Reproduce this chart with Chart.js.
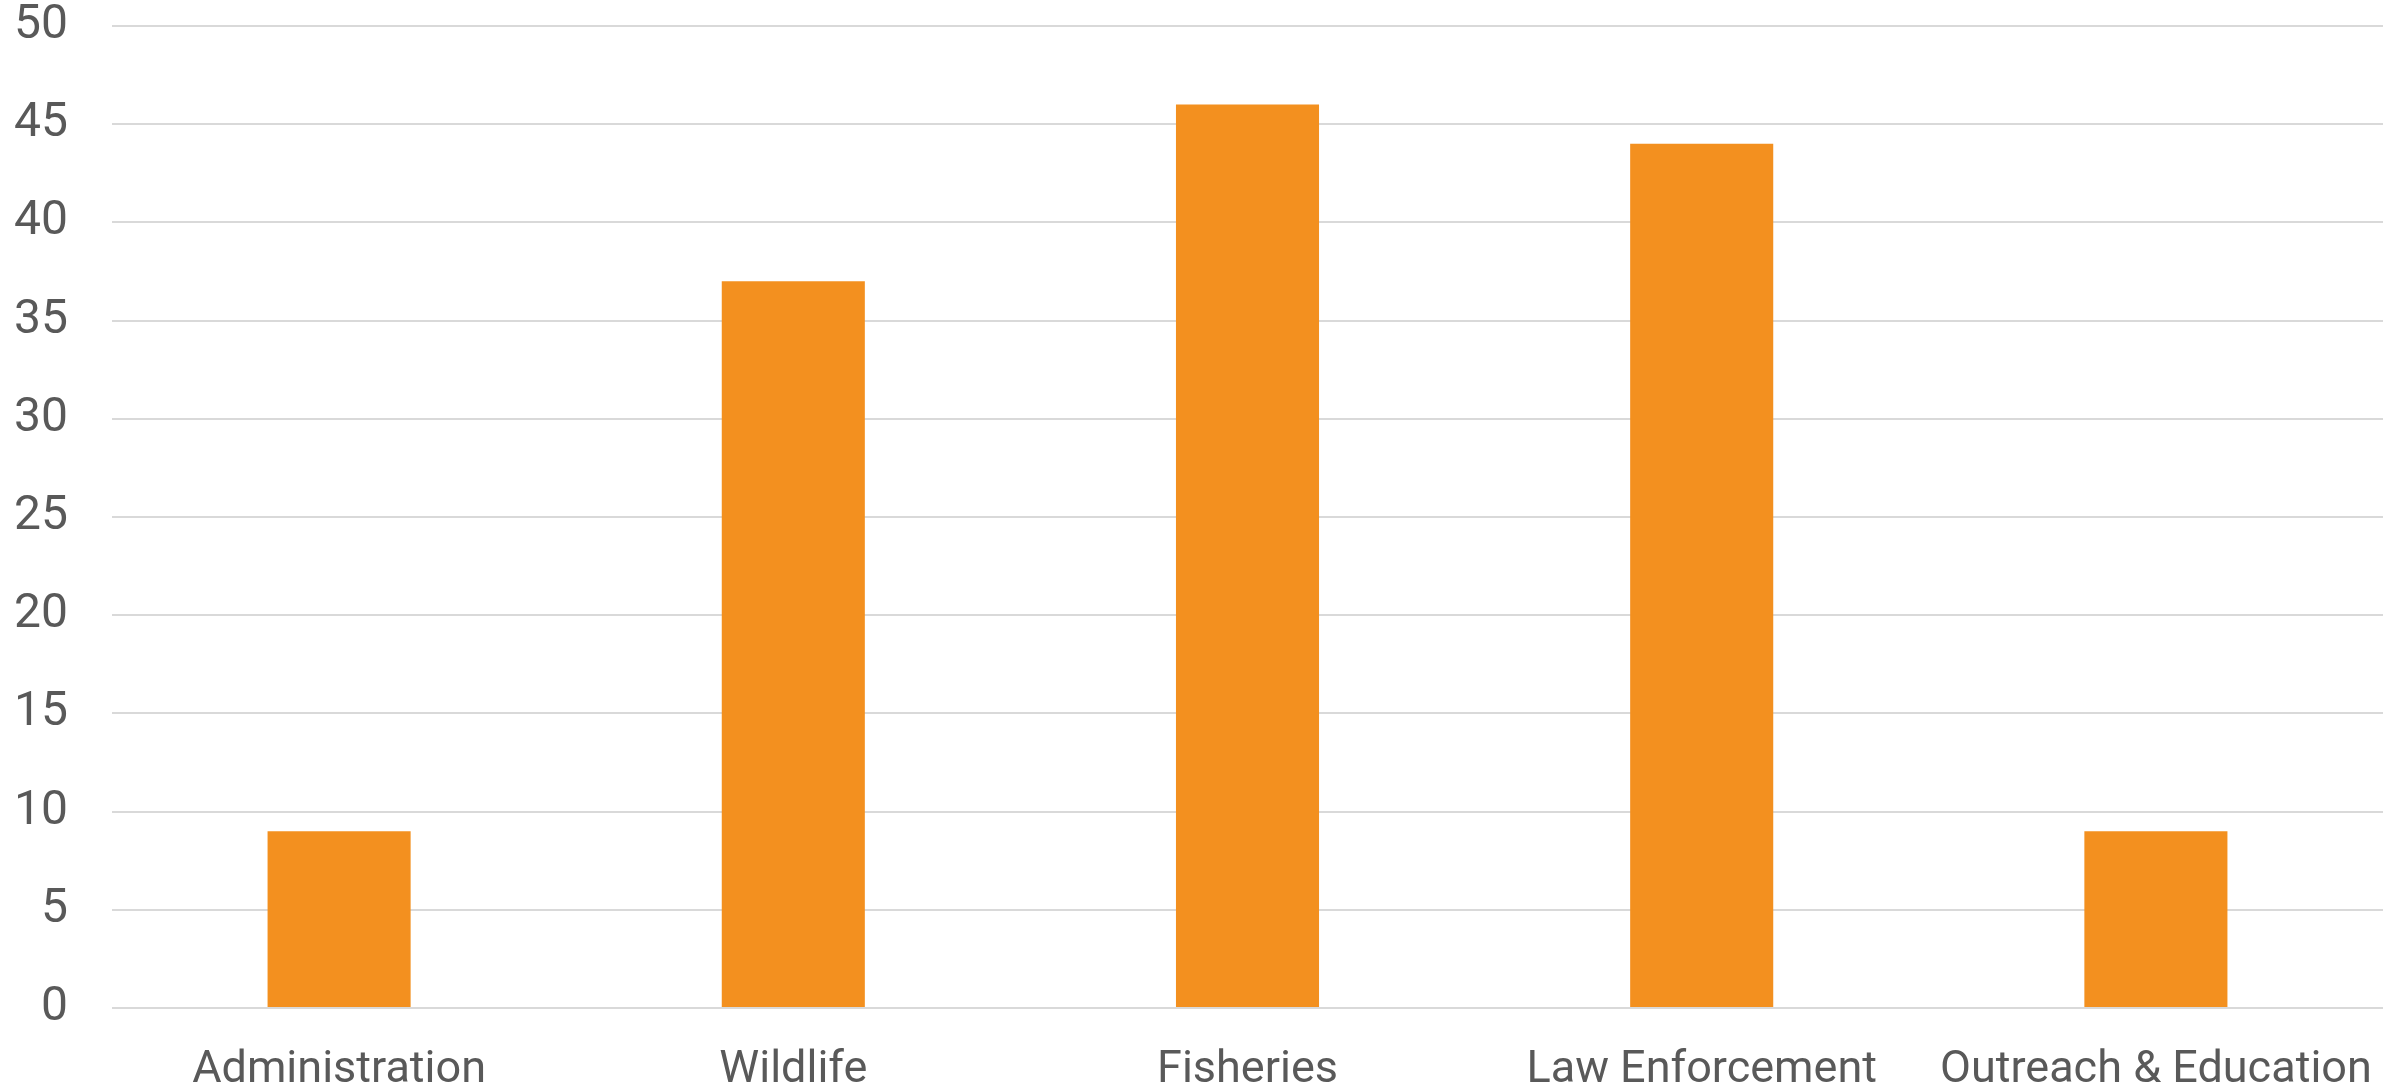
<!DOCTYPE html>
<html>
<head>
<meta charset="utf-8">
<script src="https://cdn.jsdelivr.net/npm/chart.js@4"></script>
<style>
  html, body { margin: 0; padding: 0; background: #ffffff; }
  #wrap { width: 2405px; height: 1087px; }
</style>
</head>
<body>
<div id="wrap"><canvas id="chart" width="2405" height="1087"></canvas></div>
<script>
// Data
const categories = ['Administration', 'Wildlife', 'Fisheries', 'Law Enforcement', 'Outreach & Education'];
const counts = [9, 37, 46, 44, 9];
const yMax = 50;
const yStep = 5;

const barColor = '#F3901F';
const textColor = '#595959';
const gridColor = '#D9D9D9';
const fontFamily = "Roboto, 'Liberation Sans', sans-serif";

const ctx = document.getElementById('chart').getContext('2d');

new Chart(ctx, {
    type: 'bar',
    data: {
        labels: categories,
        datasets: [{
            data: counts,
            backgroundColor: barColor,
            borderWidth: 0,
            categoryPercentage: 1,
            barPercentage: 0.315
        }]
    },
    options: {
        responsive: false,
        animation: false,
        layout: { padding: { top: 26, right: 22, bottom: 0, left: 0 } },
        plugins: {
            legend: { display: false },
            tooltip: { enabled: false }
        },
        scales: {
            x: {
                grid: { display: false, drawTicks: false },
                border: { display: false },
                ticks: {
                    color: textColor,
                    font: { family: fontFamily, size: 45 },
                    padding: 36,
                    maxRotation: 0,
                    autoSkip: false
                },
                // keep the plot edges fixed whatever the label widths are
                afterFit: (axis) => {
                    axis.height = 79;
                    axis.paddingLeft = 0;
                    axis.paddingRight = 0;
                }
            },
            y: {
                min: 0,
                max: yMax,
                grid: { color: gridColor, lineWidth: 2, drawTicks: false },
                border: { display: false },
                ticks: {
                    stepSize: yStep,
                    color: textColor,
                    font: { family: fontFamily, size: 48 },
                    padding: 44
                },
                // tick padding gets added to top/bottom padding, drop it
                afterFit: (axis) => {
                    axis.width = 112;
                    axis.paddingTop = 0;
                    axis.paddingBottom = 0;
                }
            }
        }
    }
});
</script>
</body>
</html>
